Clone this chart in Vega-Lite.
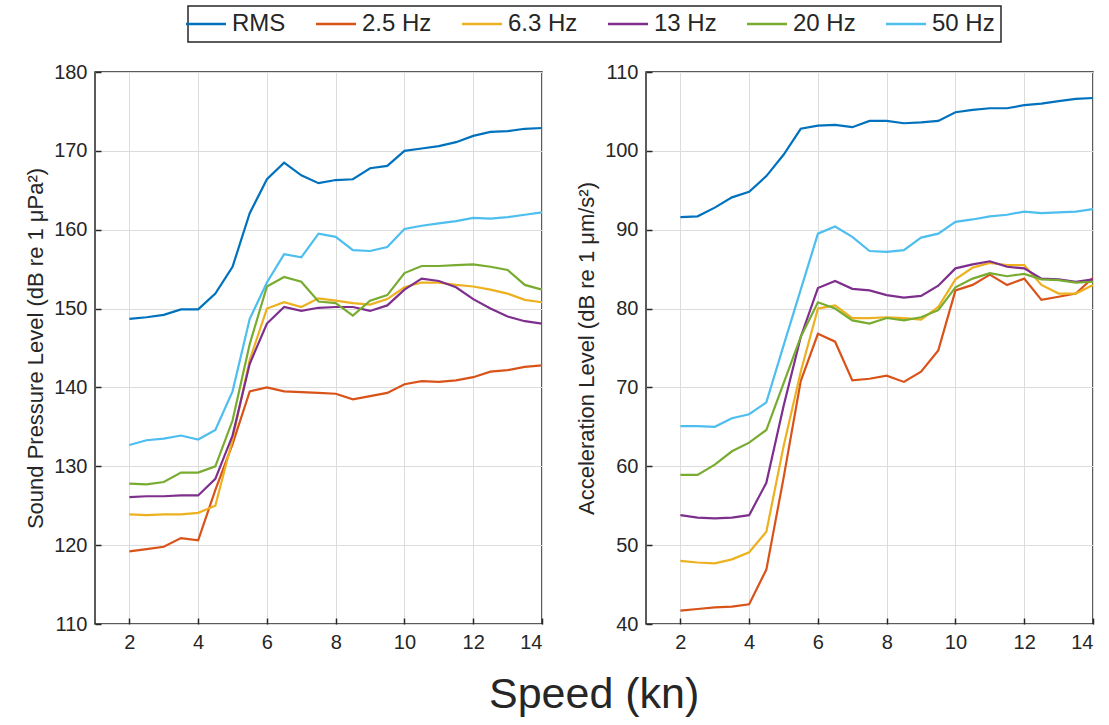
{
  "$schema": "https://vega.github.io/schema/vega-lite/v6.json",
  "padding": {"left": 23, "top": 5, "right": 10, "bottom": 2},
  "bounds": "flush",
  "spacing": 104,
  "background": "white",
  "title": {"text": "Speed (kn)", "orient": "bottom", "anchor": "middle", "fontSize": 43, "fontWeight": "normal", "color": "#262626", "offset": 21, "dx": 35, "font": "Liberation Sans"},
  "datasets": {
    "spl": [
      {"speed": 2, "series": "RMS", "level": 148.7}, {"speed": 2.5, "series": "RMS", "level": 148.9}, {"speed": 3, "series": "RMS", "level": 149.2}, {"speed": 3.5, "series": "RMS", "level": 149.9}, {"speed": 4, "series": "RMS", "level": 149.9}, {"speed": 4.5, "series": "RMS", "level": 151.9}, {"speed": 5, "series": "RMS", "level": 155.3}, {"speed": 5.5, "series": "RMS", "level": 162.1}, {"speed": 6, "series": "RMS", "level": 166.4}, {"speed": 6.5, "series": "RMS", "level": 168.5}, {"speed": 7, "series": "RMS", "level": 166.9}, {"speed": 7.5, "series": "RMS", "level": 165.9}, {"speed": 8, "series": "RMS", "level": 166.3}, {"speed": 8.5, "series": "RMS", "level": 166.4}, {"speed": 9, "series": "RMS", "level": 167.8}, {"speed": 9.5, "series": "RMS", "level": 168.1}, {"speed": 10, "series": "RMS", "level": 170.0}, {"speed": 10.5, "series": "RMS", "level": 170.3}, {"speed": 11, "series": "RMS", "level": 170.6}, {"speed": 11.5, "series": "RMS", "level": 171.1}, {"speed": 12, "series": "RMS", "level": 171.9}, {"speed": 12.5, "series": "RMS", "level": 172.4}, {"speed": 13, "series": "RMS", "level": 172.5}, {"speed": 13.5, "series": "RMS", "level": 172.8}, {"speed": 14, "series": "RMS", "level": 172.9},
      {"speed": 2, "series": "2.5 Hz", "level": 119.2}, {"speed": 2.5, "series": "2.5 Hz", "level": 119.5}, {"speed": 3, "series": "2.5 Hz", "level": 119.8}, {"speed": 3.5, "series": "2.5 Hz", "level": 120.9}, {"speed": 4, "series": "2.5 Hz", "level": 120.6}, {"speed": 4.5, "series": "2.5 Hz", "level": 127.0}, {"speed": 5, "series": "2.5 Hz", "level": 132.8}, {"speed": 5.5, "series": "2.5 Hz", "level": 139.5}, {"speed": 6, "series": "2.5 Hz", "level": 140.0}, {"speed": 6.5, "series": "2.5 Hz", "level": 139.5}, {"speed": 7, "series": "2.5 Hz", "level": 139.4}, {"speed": 7.5, "series": "2.5 Hz", "level": 139.3}, {"speed": 8, "series": "2.5 Hz", "level": 139.2}, {"speed": 8.5, "series": "2.5 Hz", "level": 138.5}, {"speed": 9, "series": "2.5 Hz", "level": 138.9}, {"speed": 9.5, "series": "2.5 Hz", "level": 139.3}, {"speed": 10, "series": "2.5 Hz", "level": 140.4}, {"speed": 10.5, "series": "2.5 Hz", "level": 140.8}, {"speed": 11, "series": "2.5 Hz", "level": 140.7}, {"speed": 11.5, "series": "2.5 Hz", "level": 140.9}, {"speed": 12, "series": "2.5 Hz", "level": 141.3}, {"speed": 12.5, "series": "2.5 Hz", "level": 142.0}, {"speed": 13, "series": "2.5 Hz", "level": 142.2}, {"speed": 13.5, "series": "2.5 Hz", "level": 142.6}, {"speed": 14, "series": "2.5 Hz", "level": 142.8},
      {"speed": 2, "series": "6.3 Hz", "level": 123.9}, {"speed": 2.5, "series": "6.3 Hz", "level": 123.8}, {"speed": 3, "series": "6.3 Hz", "level": 123.9}, {"speed": 3.5, "series": "6.3 Hz", "level": 123.9}, {"speed": 4, "series": "6.3 Hz", "level": 124.1}, {"speed": 4.5, "series": "6.3 Hz", "level": 125.0}, {"speed": 5, "series": "6.3 Hz", "level": 133.4}, {"speed": 5.5, "series": "6.3 Hz", "level": 143.5}, {"speed": 6, "series": "6.3 Hz", "level": 150.0}, {"speed": 6.5, "series": "6.3 Hz", "level": 150.8}, {"speed": 7, "series": "6.3 Hz", "level": 150.2}, {"speed": 7.5, "series": "6.3 Hz", "level": 151.3}, {"speed": 8, "series": "6.3 Hz", "level": 151.0}, {"speed": 8.5, "series": "6.3 Hz", "level": 150.7}, {"speed": 9, "series": "6.3 Hz", "level": 150.5}, {"speed": 9.5, "series": "6.3 Hz", "level": 151.2}, {"speed": 10, "series": "6.3 Hz", "level": 152.7}, {"speed": 10.5, "series": "6.3 Hz", "level": 153.3}, {"speed": 11, "series": "6.3 Hz", "level": 153.3}, {"speed": 11.5, "series": "6.3 Hz", "level": 153.0}, {"speed": 12, "series": "6.3 Hz", "level": 152.8}, {"speed": 12.5, "series": "6.3 Hz", "level": 152.4}, {"speed": 13, "series": "6.3 Hz", "level": 151.9}, {"speed": 13.5, "series": "6.3 Hz", "level": 151.1}, {"speed": 14, "series": "6.3 Hz", "level": 150.8},
      {"speed": 2, "series": "13 Hz", "level": 126.1}, {"speed": 2.5, "series": "13 Hz", "level": 126.2}, {"speed": 3, "series": "13 Hz", "level": 126.2}, {"speed": 3.5, "series": "13 Hz", "level": 126.3}, {"speed": 4, "series": "13 Hz", "level": 126.3}, {"speed": 4.5, "series": "13 Hz", "level": 128.4}, {"speed": 5, "series": "13 Hz", "level": 133.9}, {"speed": 5.5, "series": "13 Hz", "level": 143.0}, {"speed": 6, "series": "13 Hz", "level": 148.1}, {"speed": 6.5, "series": "13 Hz", "level": 150.2}, {"speed": 7, "series": "13 Hz", "level": 149.7}, {"speed": 7.5, "series": "13 Hz", "level": 150.1}, {"speed": 8, "series": "13 Hz", "level": 150.2}, {"speed": 8.5, "series": "13 Hz", "level": 150.2}, {"speed": 9, "series": "13 Hz", "level": 149.7}, {"speed": 9.5, "series": "13 Hz", "level": 150.4}, {"speed": 10, "series": "13 Hz", "level": 152.4}, {"speed": 10.5, "series": "13 Hz", "level": 153.8}, {"speed": 11, "series": "13 Hz", "level": 153.5}, {"speed": 11.5, "series": "13 Hz", "level": 152.7}, {"speed": 12, "series": "13 Hz", "level": 151.2}, {"speed": 12.5, "series": "13 Hz", "level": 150.0}, {"speed": 13, "series": "13 Hz", "level": 149.0}, {"speed": 13.5, "series": "13 Hz", "level": 148.4}, {"speed": 14, "series": "13 Hz", "level": 148.1},
      {"speed": 2, "series": "20 Hz", "level": 127.8}, {"speed": 2.5, "series": "20 Hz", "level": 127.7}, {"speed": 3, "series": "20 Hz", "level": 128.0}, {"speed": 3.5, "series": "20 Hz", "level": 129.2}, {"speed": 4, "series": "20 Hz", "level": 129.2}, {"speed": 4.5, "series": "20 Hz", "level": 130.0}, {"speed": 5, "series": "20 Hz", "level": 135.8}, {"speed": 5.5, "series": "20 Hz", "level": 145.5}, {"speed": 6, "series": "20 Hz", "level": 152.8}, {"speed": 6.5, "series": "20 Hz", "level": 154.0}, {"speed": 7, "series": "20 Hz", "level": 153.4}, {"speed": 7.5, "series": "20 Hz", "level": 150.9}, {"speed": 8, "series": "20 Hz", "level": 150.7}, {"speed": 8.5, "series": "20 Hz", "level": 149.1}, {"speed": 9, "series": "20 Hz", "level": 151.0}, {"speed": 9.5, "series": "20 Hz", "level": 151.7}, {"speed": 10, "series": "20 Hz", "level": 154.5}, {"speed": 10.5, "series": "20 Hz", "level": 155.4}, {"speed": 11, "series": "20 Hz", "level": 155.4}, {"speed": 11.5, "series": "20 Hz", "level": 155.5}, {"speed": 12, "series": "20 Hz", "level": 155.6}, {"speed": 12.5, "series": "20 Hz", "level": 155.3}, {"speed": 13, "series": "20 Hz", "level": 154.9}, {"speed": 13.5, "series": "20 Hz", "level": 153.0}, {"speed": 14, "series": "20 Hz", "level": 152.4},
      {"speed": 2, "series": "50 Hz", "level": 132.7}, {"speed": 2.5, "series": "50 Hz", "level": 133.3}, {"speed": 3, "series": "50 Hz", "level": 133.5}, {"speed": 3.5, "series": "50 Hz", "level": 133.9}, {"speed": 4, "series": "50 Hz", "level": 133.4}, {"speed": 4.5, "series": "50 Hz", "level": 134.6}, {"speed": 5, "series": "50 Hz", "level": 139.5}, {"speed": 5.5, "series": "50 Hz", "level": 148.7}, {"speed": 6, "series": "50 Hz", "level": 153.3}, {"speed": 6.5, "series": "50 Hz", "level": 156.9}, {"speed": 7, "series": "50 Hz", "level": 156.5}, {"speed": 7.5, "series": "50 Hz", "level": 159.5}, {"speed": 8, "series": "50 Hz", "level": 159.1}, {"speed": 8.5, "series": "50 Hz", "level": 157.4}, {"speed": 9, "series": "50 Hz", "level": 157.3}, {"speed": 9.5, "series": "50 Hz", "level": 157.8}, {"speed": 10, "series": "50 Hz", "level": 160.1}, {"speed": 10.5, "series": "50 Hz", "level": 160.5}, {"speed": 11, "series": "50 Hz", "level": 160.8}, {"speed": 11.5, "series": "50 Hz", "level": 161.1}, {"speed": 12, "series": "50 Hz", "level": 161.5}, {"speed": 12.5, "series": "50 Hz", "level": 161.4}, {"speed": 13, "series": "50 Hz", "level": 161.6}, {"speed": 13.5, "series": "50 Hz", "level": 161.9}, {"speed": 14, "series": "50 Hz", "level": 162.2}
    ],
    "acc": [
      {"speed": 2, "series": "RMS", "level": 91.6}, {"speed": 2.5, "series": "RMS", "level": 91.7}, {"speed": 3, "series": "RMS", "level": 92.8}, {"speed": 3.5, "series": "RMS", "level": 94.1}, {"speed": 4, "series": "RMS", "level": 94.8}, {"speed": 4.5, "series": "RMS", "level": 96.8}, {"speed": 5, "series": "RMS", "level": 99.5}, {"speed": 5.5, "series": "RMS", "level": 102.8}, {"speed": 6, "series": "RMS", "level": 103.2}, {"speed": 6.5, "series": "RMS", "level": 103.3}, {"speed": 7, "series": "RMS", "level": 103.0}, {"speed": 7.5, "series": "RMS", "level": 103.8}, {"speed": 8, "series": "RMS", "level": 103.8}, {"speed": 8.5, "series": "RMS", "level": 103.5}, {"speed": 9, "series": "RMS", "level": 103.6}, {"speed": 9.5, "series": "RMS", "level": 103.8}, {"speed": 10, "series": "RMS", "level": 104.9}, {"speed": 10.5, "series": "RMS", "level": 105.2}, {"speed": 11, "series": "RMS", "level": 105.4}, {"speed": 11.5, "series": "RMS", "level": 105.4}, {"speed": 12, "series": "RMS", "level": 105.8}, {"speed": 12.5, "series": "RMS", "level": 106.0}, {"speed": 13, "series": "RMS", "level": 106.3}, {"speed": 13.5, "series": "RMS", "level": 106.6}, {"speed": 14, "series": "RMS", "level": 106.7},
      {"speed": 2, "series": "2.5 Hz", "level": 41.7}, {"speed": 2.5, "series": "2.5 Hz", "level": 41.9}, {"speed": 3, "series": "2.5 Hz", "level": 42.1}, {"speed": 3.5, "series": "2.5 Hz", "level": 42.2}, {"speed": 4, "series": "2.5 Hz", "level": 42.5}, {"speed": 4.5, "series": "2.5 Hz", "level": 46.9}, {"speed": 5, "series": "2.5 Hz", "level": 58.5}, {"speed": 5.5, "series": "2.5 Hz", "level": 70.8}, {"speed": 6, "series": "2.5 Hz", "level": 76.8}, {"speed": 6.5, "series": "2.5 Hz", "level": 75.8}, {"speed": 7, "series": "2.5 Hz", "level": 70.9}, {"speed": 7.5, "series": "2.5 Hz", "level": 71.1}, {"speed": 8, "series": "2.5 Hz", "level": 71.5}, {"speed": 8.5, "series": "2.5 Hz", "level": 70.7}, {"speed": 9, "series": "2.5 Hz", "level": 72.0}, {"speed": 9.5, "series": "2.5 Hz", "level": 74.7}, {"speed": 10, "series": "2.5 Hz", "level": 82.3}, {"speed": 10.5, "series": "2.5 Hz", "level": 83.0}, {"speed": 11, "series": "2.5 Hz", "level": 84.3}, {"speed": 11.5, "series": "2.5 Hz", "level": 83.0}, {"speed": 12, "series": "2.5 Hz", "level": 83.8}, {"speed": 12.5, "series": "2.5 Hz", "level": 81.1}, {"speed": 13, "series": "2.5 Hz", "level": 81.5}, {"speed": 13.5, "series": "2.5 Hz", "level": 81.9}, {"speed": 14, "series": "2.5 Hz", "level": 83.9},
      {"speed": 2, "series": "6.3 Hz", "level": 48.0}, {"speed": 2.5, "series": "6.3 Hz", "level": 47.8}, {"speed": 3, "series": "6.3 Hz", "level": 47.7}, {"speed": 3.5, "series": "6.3 Hz", "level": 48.2}, {"speed": 4, "series": "6.3 Hz", "level": 49.1}, {"speed": 4.5, "series": "6.3 Hz", "level": 51.7}, {"speed": 5, "series": "6.3 Hz", "level": 62.5}, {"speed": 5.5, "series": "6.3 Hz", "level": 72.0}, {"speed": 6, "series": "6.3 Hz", "level": 80.0}, {"speed": 6.5, "series": "6.3 Hz", "level": 80.4}, {"speed": 7, "series": "6.3 Hz", "level": 78.8}, {"speed": 7.5, "series": "6.3 Hz", "level": 78.8}, {"speed": 8, "series": "6.3 Hz", "level": 78.9}, {"speed": 8.5, "series": "6.3 Hz", "level": 78.8}, {"speed": 9, "series": "6.3 Hz", "level": 78.6}, {"speed": 9.5, "series": "6.3 Hz", "level": 80.2}, {"speed": 10, "series": "6.3 Hz", "level": 83.7}, {"speed": 10.5, "series": "6.3 Hz", "level": 85.2}, {"speed": 11, "series": "6.3 Hz", "level": 85.8}, {"speed": 11.5, "series": "6.3 Hz", "level": 85.5}, {"speed": 12, "series": "6.3 Hz", "level": 85.5}, {"speed": 12.5, "series": "6.3 Hz", "level": 83.0}, {"speed": 13, "series": "6.3 Hz", "level": 81.9}, {"speed": 13.5, "series": "6.3 Hz", "level": 81.9}, {"speed": 14, "series": "6.3 Hz", "level": 83.0},
      {"speed": 2, "series": "13 Hz", "level": 53.8}, {"speed": 2.5, "series": "13 Hz", "level": 53.5}, {"speed": 3, "series": "13 Hz", "level": 53.4}, {"speed": 3.5, "series": "13 Hz", "level": 53.5}, {"speed": 4, "series": "13 Hz", "level": 53.8}, {"speed": 4.5, "series": "13 Hz", "level": 57.9}, {"speed": 5, "series": "13 Hz", "level": 67.6}, {"speed": 5.5, "series": "13 Hz", "level": 76.4}, {"speed": 6, "series": "13 Hz", "level": 82.6}, {"speed": 6.5, "series": "13 Hz", "level": 83.5}, {"speed": 7, "series": "13 Hz", "level": 82.5}, {"speed": 7.5, "series": "13 Hz", "level": 82.3}, {"speed": 8, "series": "13 Hz", "level": 81.7}, {"speed": 8.5, "series": "13 Hz", "level": 81.4}, {"speed": 9, "series": "13 Hz", "level": 81.6}, {"speed": 9.5, "series": "13 Hz", "level": 82.9}, {"speed": 10, "series": "13 Hz", "level": 85.1}, {"speed": 10.5, "series": "13 Hz", "level": 85.6}, {"speed": 11, "series": "13 Hz", "level": 86.0}, {"speed": 11.5, "series": "13 Hz", "level": 85.3}, {"speed": 12, "series": "13 Hz", "level": 85.1}, {"speed": 12.5, "series": "13 Hz", "level": 83.8}, {"speed": 13, "series": "13 Hz", "level": 83.7}, {"speed": 13.5, "series": "13 Hz", "level": 83.4}, {"speed": 14, "series": "13 Hz", "level": 83.7},
      {"speed": 2, "series": "20 Hz", "level": 58.9}, {"speed": 2.5, "series": "20 Hz", "level": 58.9}, {"speed": 3, "series": "20 Hz", "level": 60.2}, {"speed": 3.5, "series": "20 Hz", "level": 61.9}, {"speed": 4, "series": "20 Hz", "level": 63.0}, {"speed": 4.5, "series": "20 Hz", "level": 64.6}, {"speed": 5, "series": "20 Hz", "level": 70.5}, {"speed": 5.5, "series": "20 Hz", "level": 76.4}, {"speed": 6, "series": "20 Hz", "level": 80.8}, {"speed": 6.5, "series": "20 Hz", "level": 80.0}, {"speed": 7, "series": "20 Hz", "level": 78.5}, {"speed": 7.5, "series": "20 Hz", "level": 78.1}, {"speed": 8, "series": "20 Hz", "level": 78.8}, {"speed": 8.5, "series": "20 Hz", "level": 78.5}, {"speed": 9, "series": "20 Hz", "level": 78.9}, {"speed": 9.5, "series": "20 Hz", "level": 79.8}, {"speed": 10, "series": "20 Hz", "level": 82.7}, {"speed": 10.5, "series": "20 Hz", "level": 83.8}, {"speed": 11, "series": "20 Hz", "level": 84.5}, {"speed": 11.5, "series": "20 Hz", "level": 84.1}, {"speed": 12, "series": "20 Hz", "level": 84.4}, {"speed": 12.5, "series": "20 Hz", "level": 83.7}, {"speed": 13, "series": "20 Hz", "level": 83.6}, {"speed": 13.5, "series": "20 Hz", "level": 83.3}, {"speed": 14, "series": "20 Hz", "level": 83.4},
      {"speed": 2, "series": "50 Hz", "level": 65.1}, {"speed": 2.5, "series": "50 Hz", "level": 65.1}, {"speed": 3, "series": "50 Hz", "level": 65.0}, {"speed": 3.5, "series": "50 Hz", "level": 66.1}, {"speed": 4, "series": "50 Hz", "level": 66.6}, {"speed": 4.5, "series": "50 Hz", "level": 68.1}, {"speed": 5, "series": "50 Hz", "level": 75.3}, {"speed": 5.5, "series": "50 Hz", "level": 82.4}, {"speed": 6, "series": "50 Hz", "level": 89.5}, {"speed": 6.5, "series": "50 Hz", "level": 90.4}, {"speed": 7, "series": "50 Hz", "level": 89.1}, {"speed": 7.5, "series": "50 Hz", "level": 87.3}, {"speed": 8, "series": "50 Hz", "level": 87.2}, {"speed": 8.5, "series": "50 Hz", "level": 87.4}, {"speed": 9, "series": "50 Hz", "level": 89.0}, {"speed": 9.5, "series": "50 Hz", "level": 89.5}, {"speed": 10, "series": "50 Hz", "level": 91.0}, {"speed": 10.5, "series": "50 Hz", "level": 91.3}, {"speed": 11, "series": "50 Hz", "level": 91.7}, {"speed": 11.5, "series": "50 Hz", "level": 91.9}, {"speed": 12, "series": "50 Hz", "level": 92.3}, {"speed": 12.5, "series": "50 Hz", "level": 92.1}, {"speed": 13, "series": "50 Hz", "level": 92.2}, {"speed": 13.5, "series": "50 Hz", "level": 92.3}, {"speed": 14, "series": "50 Hz", "level": 92.6}
    ]
  },
  "hconcat": [
    {
      "width": 447,
      "height": 552,
      "data": {"name": "spl"},
      "mark": {"type": "line", "strokeWidth": 2.2, "clip": true},
      "encoding": {
        "x": {"field": "speed", "type": "quantitative", "scale": {"domain": [1, 14], "nice": false, "zero": false}, "axis": {"values": [2, 4, 6, 8, 10, 12, 14], "title": null}},
        "y": {"field": "level", "type": "quantitative", "scale": {"domain": [110, 180], "nice": false, "zero": false}, "axis": {"values": [110, 120, 130, 140, 150, 160, 170, 180], "title": "Sound Pressure Level (dB re 1  μPa²)"}},
        "color": {"field": "series", "type": "nominal", "sort": null,
          "scale": {"domain": ["RMS", "2.5 Hz", "6.3 Hz", "13 Hz", "20 Hz", "50 Hz"], "range": ["#0072BD", "#D95319", "#EDB120", "#7E2F8E", "#77AC30", "#4DBEEE"]},
          "legend": {"orient": "none", "legendX": 93, "legendY": -66, "direction": "horizontal", "title": null}}
      }
    },
    {
      "width": 447,
      "height": 552,
      "data": {"name": "acc"},
      "mark": {"type": "line", "strokeWidth": 2.2, "clip": true},
      "encoding": {
        "x": {"field": "speed", "type": "quantitative", "scale": {"domain": [1, 14], "nice": false, "zero": false}, "axis": {"values": [2, 4, 6, 8, 10, 12, 14], "title": null}},
        "y": {"field": "level", "type": "quantitative", "scale": {"domain": [40, 110], "nice": false, "zero": false}, "axis": {"values": [40, 50, 60, 70, 80, 90, 100, 110], "title": "Acceleration Level (dB re 1  μm/s²)"}},
        "color": {"field": "series", "type": "nominal", "sort": null}
      }
    }
  ],
  "resolve": {"scale": {"color": "shared", "x": "independent", "y": "independent"}},
  "config": {
    "font": "Liberation Sans",
    "view": {"stroke": "#262626", "strokeWidth": 1.5},
    "axis": {"grid": true, "gridColor": "#dcdcdc", "gridWidth": 1, "domain": false, "ticks": true, "tickColor": "#262626", "tickSize": -6, "tickWidth": 1.5, "labelFontSize": 20, "labelColor": "#262626", "labelFont": "Liberation Sans", "titleFont": "Liberation Sans", "titleFontSize": 22, "titleColor": "#262626", "titleFontWeight": "normal"},
    "axisX": {"labelPadding": 14},
    "axisY": {"labelPadding": 14, "titlePadding": 6},
    "legend": {"strokeColor": "#262626", "strokeWidth": 1.5, "fillColor": "white", "padding": 6, "symbolType": "M-2,0H2", "symbolStrokeWidth": 2.5, "symbolSize": 400, "labelFontSize": 24, "labelColor": "#262626", "labelFont": "Liberation Sans", "columnPadding": 25, "labelOffset": 14}
  }
}
